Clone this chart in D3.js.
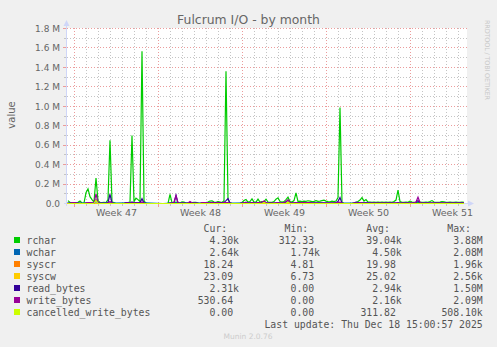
<!DOCTYPE html>
<html>
<head>
<meta charset="utf-8">
<script src="https://cdn.jsdelivr.net/npm/d3@7"></script>
<style>
  body { margin: 0; background: #f0f0f0; }
  svg { display: block; }
  text { font-family: "DejaVu Sans", sans-serif; fill: #666; }
  text.mono { font-family: "DejaVu Sans Mono", monospace; font-size: 9.8px; fill: #555; }
</style>
</head>
<body>
<svg id="chart" width="497" height="347"></svg>
<script>
// values in thousands, one sample every 4 hours (2 px) from the graph start
var rchar = [
  30,12,10,8,10,12,25,5,5,110,150,70,40,15,263,30,12,10,12,10,
  40,650,15,10,0,0,0,0,0,5,10,15,700,20,55,40,20,1567,30,0,
  0,0,0,0,0,0,0,0,0,0,0,93,10,10,15,10,5,16,14,5,
  5,8,10,12,12,5,0,3,5,10,15,25,28,15,12,20,15,10,30,1361,
  40,5,0,0,0,0,0,10,30,42,15,20,48,15,15,45,15,20,20,45,
  15,12,12,20,45,58,20,15,20,40,65,20,15,30,110,20,25,20,25,22,
  28,25,20,22,30,22,25,30,35,25,20,18,25,20,25,60,988,10,0,0,
  0,0,0,5,10,20,35,60,25,40,15,15,12,15,12,15,12,15,12,15,
  12,15,12,20,35,137,20,12,12,15,12,25,15,12,12,10,15,12,12,15,
  12,20,30,15,12,12,15,20,18,12,12,15,12,12,15,12,12,15,12,null
];
var read_bytes = [
  2,2,3,5,3,2,2,0,0,3,5,5,3,2,40,5,2,2,2,2,
  10,95,5,2,0,0,0,0,0,8,8,5,15,5,8,5,10,50,5,0,
  0,0,0,0,0,0,0,0,0,0,0,5,3,10,85,5,2,3,3,2,
  3,10,5,3,3,2,0,3,5,8,5,8,12,10,8,12,10,8,12,30,
  50,5,0,0,0,0,0,5,8,10,5,5,8,5,5,8,10,12,20,8,
  5,5,5,5,8,10,5,5,8,15,30,8,5,5,10,5,10,8,12,8,
  10,8,5,5,5,5,5,5,5,5,5,5,5,5,10,20,62,3,0,0,
  0,0,0,5,15,10,5,5,5,3,3,3,3,3,3,3,3,3,3,3,
  3,3,3,3,5,10,3,3,3,3,3,5,5,5,10,30,5,3,3,3,
  3,3,5,3,3,3,3,3,3,3,3,3,3,3,3,3,3,3,3,null
];
var write_bytes = [
  2,2,10,10,8,2,2,0,0,5,10,10,8,3,100,10,3,2,2,2,
  5,20,5,2,0,0,0,0,0,5,5,5,5,5,5,5,5,15,3,0,
  0,0,0,0,0,0,0,0,0,0,0,3,3,8,80,5,2,3,2,2,
  5,20,8,3,3,2,0,10,10,10,8,5,10,8,5,10,5,5,10,10,
  10,3,0,0,0,0,0,5,8,15,5,5,8,5,5,8,8,15,25,10,
  5,5,5,5,5,8,5,5,10,20,40,10,5,5,8,5,8,8,10,8,
  8,8,5,3,3,3,3,3,3,3,3,3,3,3,5,10,15,3,0,0,
  0,0,0,3,5,5,10,5,3,3,3,3,3,3,3,3,3,3,3,3,
  3,3,3,3,3,5,3,3,3,3,3,5,5,5,15,65,10,3,3,3,
  3,3,5,3,3,3,3,3,3,3,3,3,3,3,3,3,3,3,3,null
];
var cancelled_write_bytes = [
  0,0,0,0,0,0,0,0,0,0,0,0,0,0,35,0,0,0,0,0,
  0,0,0,0,0,0,0,0,0,0,0,0,0,0,0,0,0,0,0,0,
  0,0,0,0,0,0,0,0,0,0,0,0,0,0,0,0,0,0,0,0,
  0,0,0,0,0,0,0,0,0,0,0,0,0,0,0,0,0,0,0,0,
  0,0,0,0,0,0,0,0,0,0,0,0,0,0,0,0,0,0,12,0,
  0,0,0,0,0,0,0,0,0,0,15,0,0,0,0,0,0,0,0,0,
  0,0,0,0,0,0,0,0,0,0,0,0,0,0,0,0,0,0,0,0,
  0,0,0,0,0,0,0,0,0,0,0,0,0,0,0,0,0,0,0,0,
  0,0,0,0,0,0,0,0,0,0,0,0,0,0,0,0,0,0,0,0,
  0,0,0,0,0,0,0,0,0,0,0,0,0,0,0,0,0,0,0,null
];
// daily samples (thousands for wchar, plain counts for syscr / syscw)
var wchar = [5,4,5,6,5,6,8,4,0,6,5,4,3,5,4,6,5,0,4,5,5,6,5,4,5,8,0,4,4,4,5,4,4,4];
var syscr = [18,20,22,19,5,21,24,6,5,18,20,19,22,20,15,21,19,20,22,18,20,21,19,23,6,20,19,18,20,21,19,20,18,18];
var syscw = [22,25,27,24,7,26,30,8,7,23,25,24,28,25,19,26,24,25,27,23,25,26,24,29,8,25,24,23,25,26,24,25,23,23];

var names = ["rchar", "wchar", "syscr", "syscw", "read_bytes", "write_bytes", "cancelled_write_bytes"];
var colors = ["#00cc00", "#0066b3", "#ff8000", "#ffcc00", "#330099", "#990099", "#ccff00"];
var cur = ["4.30k", "2.64k", "18.24", "23.09", "2.31k", "530.64", "0.00"];
var min = ["312.33", "1.74k", "4.81", "6.73", "0.00", "0.00", "0.00"];
var avg = ["39.04k", "4.50k", "19.98", "25.02", "2.94k", "2.16k", "311.82"];
var max = ["3.88M", "2.08M", "1.96k", "2.56k", "1.50M", "2.09M", "508.10k"];
var yTicks = [0, 2e5, 4e5, 6e5, 8e5, 1e6, 1.2e6, 1.4e6, 1.6e6, 1.8e6];

var HOUR = 3600 * 1000;
var tStart = Date.UTC(2025, 10, 15, 9),
    tEnd = tStart + 800 * HOUR;

var svg = d3.select("#chart");
var plotL = 67, plotR = 467, plotT = 28.5, plotB = 203.5;
var gridGrey = "#c4c4c4", gridRed = "#eb9c9c";

var x = d3.scaleUtc().domain([tStart, tEnd]).range([plotL, plotR]);
var y = d3.scaleLinear().domain([0, 1.8e6]).range([plotB, plotT]);

svg.append("rect").attr("x", plotL).attr("y", 28).attr("width", plotR - plotL).attr("height", 176).attr("fill", "#fff");

// grid
var days = d3.utcDay.range(new Date(tStart), new Date(tEnd));
var grid = svg.append("g");
days.forEach(function(d) {
  var major = d.getUTCDay() == 0;
  var xx = Math.floor(x(d)) + 0.5;
  grid.append("line").attr("x1", xx).attr("x2", xx).attr("y1", 28).attr("y2", 203)
      .attr("stroke", major ? gridRed : gridGrey).attr("stroke-dasharray", "1,2");
  grid.append("line").attr("x1", xx).attr("x2", xx).attr("y1", 204).attr("y2", major ? 207 : 206)
      .attr("stroke", major ? gridRed : gridGrey);
});
d3.range(1e5, 1.8e6 + 1, 1e5).forEach(function(v) {
  var major = Math.round(v / 1e5) % 2 == 0;
  var yy = Math.round(y(v) - 0.5) + 0.5;
  grid.append("line").attr("x1", plotL).attr("x2", plotR).attr("y1", yy).attr("y2", yy)
      .attr("stroke", major ? gridRed : gridGrey).attr("stroke-dasharray", "1,2");
  grid.append("line").attr("x1", major ? 63 : 64).attr("x2", 66).attr("y1", yy).attr("y2", yy)
      .attr("stroke", major ? gridRed : gridGrey);
});

// axis lines and arrows
svg.append("line").attr("x1", 66.5).attr("x2", 66.5).attr("y1", 206).attr("y2", 24).attr("stroke", "#cfd6f8");
svg.append("line").attr("x1", 64).attr("x2", 469).attr("y1", 203.5).attr("y2", 203.5).attr("stroke", "#cfd6f8");
svg.append("path").attr("d", "M63.5,26L66.5,20L69.5,26Z").attr("fill", "#cfd6f8");
svg.append("path").attr("d", "M468,200.5L474,203.5L468,206.5Z").attr("fill", "#cfd6f8");

// y labels
svg.append("g").selectAll("text").data(yTicks).enter().append("text")
    .attr("x", 60).attr("y", function(d) { return y(d); }).attr("dy", "0.36em")
    .attr("text-anchor", "end").style("font-size", "9px")
    .text(function(d) { return d == 0 ? "0.0" : (d / 1e6).toFixed(1) + " M"; });

// x labels, centered inside each week
var weeks = d3.utcSunday.range(new Date(tStart), new Date(tEnd));
weeks.forEach(function(w) {
  var mid = new Date(w.getTime() + 84 * HOUR);
  if (mid > tEnd) return;
  svg.append("text").attr("x", x(mid)).attr("y", 216).attr("text-anchor", "middle")
      .style("font-size", "9.5px").text("Week " + d3.utcFormat("%V")(mid));
});

svg.append("text").attr("transform", "translate(15,115) rotate(-90)").attr("text-anchor", "middle")
    .style("font-size", "10px").text("value");
svg.append("text").attr("x", 248.5).attr("y", 24).attr("text-anchor", "middle")
    .style("font-size", "12.4px").text("Fulcrum I/O - by month");
svg.append("text").attr("transform", "translate(485,20) rotate(90)").attr("textLength", 80)
    .style("font-size", "6.5px").style("fill", "#c8c8c8").text("RRDTOOL / TOBI OETIKER");

// data lines
svg.append("clipPath").attr("id", "plot").append("rect")
    .attr("x", plotL).attr("y", 20).attr("width", plotR - plotL).attr("height", 184);
var plot = svg.append("g").attr("clip-path", "url(#plot)");

function sampled(arr, scale) {
  return arr.map(function(v, i) { return { t: tStart + (2 + 4 * i) * HOUR, v: v == null ? null : v * scale }; });
}
function daily(arr, scale) {
  return arr.map(function(v, i) { return { t: tStart + 24 * i * HOUR, v: v * scale }; });
}
var lineData = [
  sampled(rchar, 1000), daily(wchar, 1000), daily(syscr, 1), daily(syscw, 1),
  sampled(read_bytes, 1000), sampled(write_bytes, 1000), sampled(cancelled_write_bytes, 1000)
];
var line = d3.line()
    .defined(function(d) { return d.v != null; })
    .x(function(d) { return x(d.t); })
    .y(function(d) { return y(d.v); });
lineData.forEach(function(s, i) {
  plot.append("path").attr("d", line(s)).attr("fill", "none")
      .attr("stroke", colors[i]).attr("stroke-width", 1.2);
});

// legend
var lg = svg.append("g");
var edges = [239, 320, 401.7, 482.7], charW = 5.9;
["Cur:", "Min:", "Avg:", "Max:"].forEach(function(h, k) {
  lg.append("text").attr("class", "mono").attr("x", edges[k] - 2 * charW).attr("y", 231.5)
      .attr("text-anchor", "end").text(h);
});
names.forEach(function(n, i) {
  var yy = 243.5 + 12 * i;
  lg.append("rect").attr("x", 14).attr("y", yy - 6.5).attr("width", 6).attr("height", 6).attr("fill", colors[i]);
  lg.append("text").attr("class", "mono").attr("x", 26.5).attr("y", yy).text(n);
  [cur, min, avg, max].forEach(function(col, k) {
    var s = col[i];
    var unit = /[a-zA-Z]$/.test(s);
    lg.append("text").attr("class", "mono").attr("x", edges[k] - (unit ? 0 : charW)).attr("y", yy)
        .attr("text-anchor", "end").text(s);
  });
});
lg.append("text").attr("class", "mono").attr("x", 482.7).attr("y", 327.5).attr("text-anchor", "end")
    .text("Last update: Thu Dec 18 15:00:57 2025");
svg.append("text").attr("x", 248).attr("y", 339).attr("text-anchor", "middle")
    .style("font-size", "7.5px").style("fill", "#cccccc").text("Munin 2.0.76");
</script>
</body>
</html>
